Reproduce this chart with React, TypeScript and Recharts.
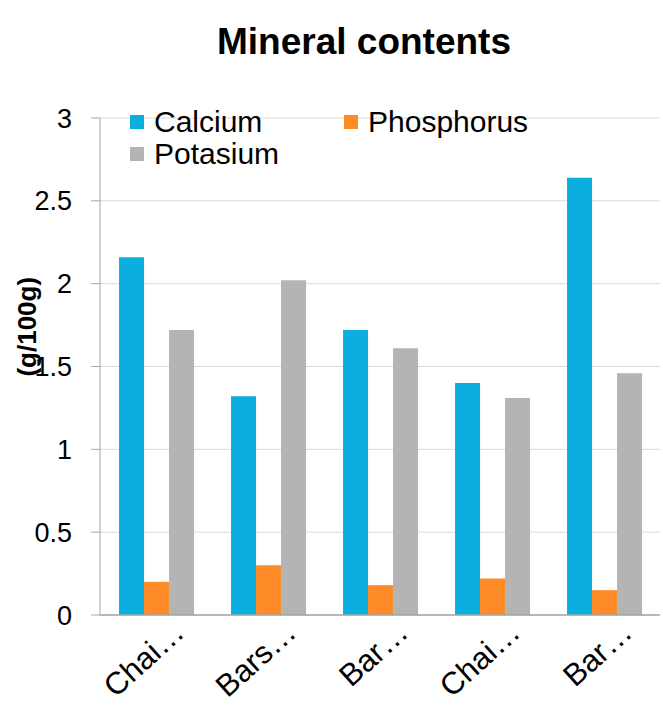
import React from 'react'
import { BarChart, Bar, XAxis, YAxis, CartesianGrid, Legend } from 'recharts'

const categories = ['Chai…', 'Bars…', 'Bar…', 'Chai…', 'Bar…']
const calcium = [2.16, 1.32, 1.72, 1.4, 2.64]
const phosphorus = [0.2, 0.3, 0.18, 0.22, 0.15]
const potasium = [1.72, 2.02, 1.61, 1.31, 1.46]
const yTicks = [0, 0.5, 1, 1.5, 2, 2.5, 3]

const FONT = '"Liberation Sans", Arial, sans-serif'
const AXIS = '#a6a6a6'

const data = categories.map((name, i) => ({
  name,
  Calcium: calcium[i],
  Phosphorus: phosphorus[i],
  Potasium: potasium[i],
}))

function XTick({ x, y, payload }: any) {
  // rotated, end of the text sits just right of the category centre
  return (
    <g transform={`translate(${x + 30},${y + 20})`}>
      <text textAnchor="end" transform="rotate(-42)" fontSize={31} fill="#000" fontFamily={FONT}>
        {payload.value}
      </text>
    </g>
  )
}

function YLabel({ viewBox }: any) {
  const cx = 27
  const cy = viewBox.y + viewBox.height * 0.42
  return (
    <text
      x={cx}
      y={cy}
      transform={`rotate(-90, ${cx}, ${cy})`}
      textAnchor="middle"
      dominantBaseline="central"
      fontSize={26}
      fontWeight="bold"
      fontFamily={FONT}
      fill="#000"
    >
      (g/100g)
    </text>
  )
}

function LegendBox({ payload }: any) {
  return (
    <div
      style={{
        display: 'grid',
        gridTemplateColumns: '214px 214px',
        rowGap: 0,
        fontFamily: FONT,
        fontSize: 30,
      }}
    >
      {(payload || []).map((p: any) => (
        <div key={p.value} style={{ display: 'flex', alignItems: 'center', height: 32 }}>
          <span style={{ width: 14, height: 14, background: p.color, marginRight: 10 }} />
          <span style={{ color: '#000' }}>{p.value}</span>
        </div>
      ))}
    </div>
  )
}

export default function App() {
  return (
    <div style={{ position: 'absolute', left: 0, top: 0, width: 663, height: 718, background: '#fff' }}>
      <div
        style={{
          position: 'absolute',
          left: 217,
          top: 23,
          fontFamily: FONT,
          fontWeight: 'bold',
          fontSize: 37,
          lineHeight: 1,
          whiteSpace: 'nowrap',
          color: '#000',
        }}
      >
        Mineral contents
      </div>
      <BarChart
        width={663}
        height={718}
        data={data}
        margin={{ top: 118, right: 3, bottom: 0, left: 0 }}
        barCategoryGap="17%"
        barGap={0}
      >
        <CartesianGrid vertical={false} stroke="#dadada" />
        <XAxis
          dataKey="name"
          height={103}
          tickLine={false}
          tickSize={0}
          tickMargin={0}
          axisLine={{ stroke: AXIS, strokeWidth: 1.5 }}
          tick={<XTick />}
          interval={0}
        />
        <YAxis
          width={100}
          domain={[0, 3]}
          ticks={yTicks}
          tickSize={9}
          tickMargin={19}
          tickLine={{ stroke: AXIS }}
          axisLine={{ stroke: AXIS }}
          tick={{ fill: '#000', fontSize: 27, fontFamily: FONT }}
          label={<YLabel />}
        />
        <Legend
          layout="horizontal"
          verticalAlign="middle"
          align="center"
          wrapperStyle={{ top: 106, left: 130, width: 440 }}
          content={<LegendBox />}
        />
        <Bar dataKey="Calcium" fill="#0AAFE0" isAnimationActive={false} />
        <Bar dataKey="Phosphorus" fill="#FF8A28" isAnimationActive={false} />
        <Bar dataKey="Potasium" fill="#B4B4B4" isAnimationActive={false} />
      </BarChart>
    </div>
  )
}
